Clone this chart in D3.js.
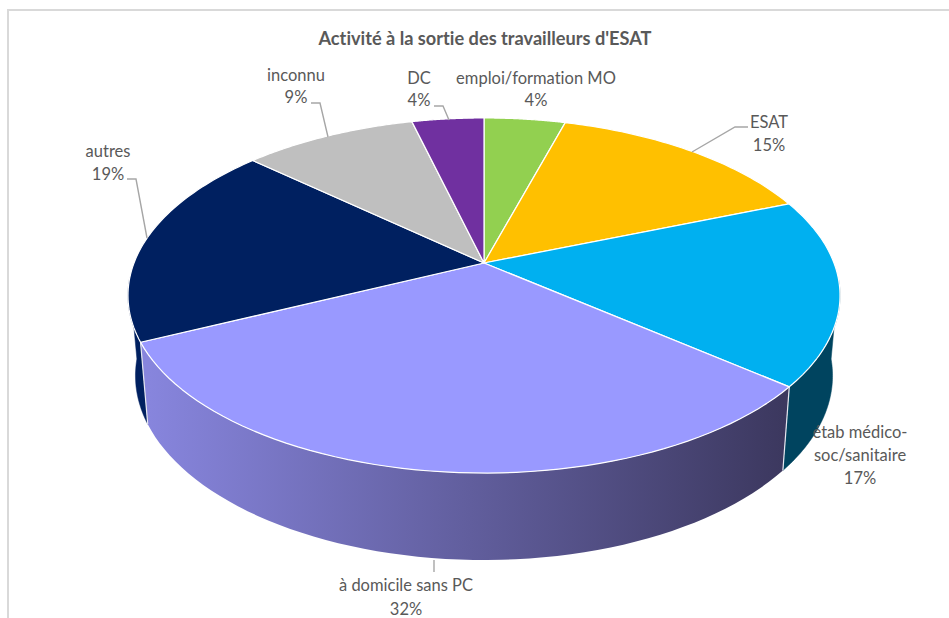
<!DOCTYPE html>
<html><head><meta charset="utf-8">
<script src="https://cdn.jsdelivr.net/npm/d3@7"></script>
<style>html,body{margin:0;background:#fff}svg{display:block}text{font-family:Lato,"Open Sans",sans-serif;fill:#595959;font-variant-ligatures:none}</style>
</head><body><svg id="c" width="949" height="618"></svg>
<script>
const categories=["emploi/formation MO","ESAT","étab médico-soc/sanitaire","à domicile sans PC","autres","inconnu","DC"];
const values=[4.4,14.6,17,32,18.7,9.4,3.9];
const labels=["4%","15%","17%","32%","19%","9%","4%"];
const colors=["#92d050","#ffc000","#00b0f0","#9999ff","#002060","#bfbfbf","#7030a0"];
const sideColors=["#4f7a2a","#8a6800","#00445f","url(#side)","#002060","#666","#3c1a56"];
const title="Activité à la sortie des travailleurs d'ESAT";

const svg=d3.select("#c");
const defs=svg.append("defs");
const g=defs.append("linearGradient").attr("id","side").attr("gradientUnits","userSpaceOnUse")
  .attr("x1",149).attr("x2",783).attr("y1",0).attr("y2",0);
g.append("stop").attr("offset",0).attr("stop-color","#8785dd");
g.append("stop").attr("offset",1).attr("stop-color","#3c385f");

// frame
svg.append("path").attr("d","M8,618V10H949").attr("fill","none").attr("stroke","#d9d9d9").attr("stroke-width",2);

// perspective projection of the flat disc
const cx=484,cy=263,R=350,K=171.6,P=0.183;
const topPt=a=>{const w=1+P*Math.cos(a);return [cx+R*Math.sin(a)/w,cy-K*Math.cos(a)/w];};
const botPt=a=>{const p=topPt(a);return [cx+0.979*(p[0]-cx),1.038*p[1]+69];};
const line=d3.line();
const arcPts=(f,a0,a1)=>d3.range(0,61).map(i=>f(a0+(a1-a0)*i/60));

const pie=d3.pie().sort(null).value(d=>d)(values);

// visible side faces: étab, domicile, autres
const sideFace=(a0,a1,fill)=>{
  const pts=arcPts(topPt,a0,a1).concat(arcPts(botPt,a1,a0));
  svg.append("path").attr("d",line(pts)+"Z").attr("fill",fill).attr("stroke",fill==="url(#side)"?"none":fill).attr("stroke-width",.5);
};
// only the lower, outward-facing parts of these are seen
sideFace(Math.PI*0.53,pie[2].endAngle,sideColors[2]);
sideFace(pie[4].startAngle,Math.PI*1.47,sideColors[4]);
sideFace(pie[3].startAngle,pie[3].endAngle,sideColors[3]);
// white edges on side faces
[pie[3].startAngle,pie[3].endAngle].forEach(a=>{
  svg.append("path").attr("d",line([topPt(a),botPt(a)])).attr("stroke","#e8e8f0").attr("stroke-width",1.2).attr("fill","none");
});

// top faces
svg.selectAll("path.s").data(pie).enter().append("path").attr("class","s")
  .attr("d",d=>line([[cx,cy]].concat(arcPts(topPt,d.startAngle,d.endAngle)))+"Z")
  .attr("fill",(d,i)=>colors[i]).attr("stroke","#fff").attr("stroke-width",1.2).attr("stroke-linejoin","round");

// leader lines
const leaders=[[[311,103],[320,103],[328,137]],[[127,179],[136,179],[147,238]],[[434,106],[443,106],[449,120]],[[748,127],[735,127],[692,152]],[[434,560],[434,572]]];
svg.selectAll("path.l").data(leaders).enter().append("path").attr("class","l")
  .attr("d",line).attr("fill","none").attr("stroke","#a6a6a6").attr("stroke-width",1.4);

// text
svg.append("text").text(title).attr("x",485).attr("y",45).attr("text-anchor","middle").attr("font-size",18.2).attr("font-weight",700);
const labelLayout=[
 {i:0,x:536,y:[84,106],t:[categories[0]]},
 {i:1,x:769,y:[128,151],t:[categories[1]]},
 {i:2,x:860,y:[438,461,484],t:["étab médico-","soc/sanitaire"]},
 {i:3,x:406,y:[591,615],t:[categories[3]]},
 {i:4,x:108,y:[157,180],t:[categories[4]]},
 {i:5,x:296,y:[81,103],t:[categories[5]]},
 {i:6,x:419,y:[84,106],t:[categories[6]]}];
labelLayout.forEach(l=>{
  l.t.concat([labels[l.i]]).forEach((s,j)=>{
    svg.append("text").text(s).attr("x",l.x).attr("y",l.y[j]).attr("text-anchor","middle").attr("font-size",16.5);
  });
});
</script></body></html>
